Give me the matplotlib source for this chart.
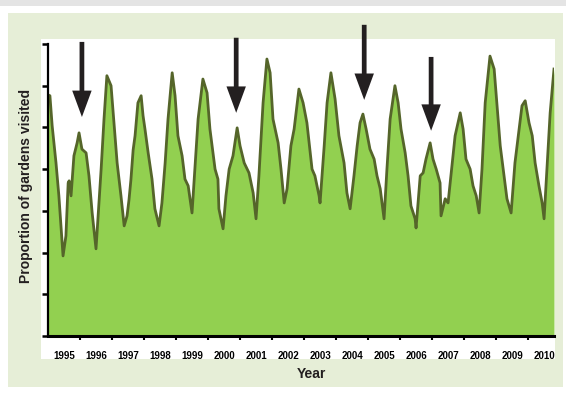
import matplotlib
matplotlib.use("Agg")
import matplotlib.pyplot as plt
from matplotlib import font_manager
from matplotlib.patches import Rectangle

# weekly-ish proportion of gardens visited
years_t = [1995.00, 1995.06, 1995.13, 1995.25, 1995.34, 1995.44, 1995.47, 1995.56, 1995.63, 1995.66,
           1995.72, 1995.81, 1995.91, 1995.97, 1996.06, 1996.19, 1996.28, 1996.38, 1996.50, 1996.66,
           1996.75, 1996.84, 1996.97, 1997.06, 1997.16, 1997.28, 1997.38, 1997.47, 1997.53, 1997.59,
           1997.66, 1997.72, 1997.81, 1997.91, 1997.97, 1998.03, 1998.13, 1998.25, 1998.34, 1998.47,
           1998.56, 1998.66, 1998.75, 1998.88, 1998.97, 1999.06, 1999.19, 1999.28, 1999.38, 1999.50,
           1999.59, 1999.69, 1999.84, 1999.97, 2000.06, 2000.22, 2000.31, 2000.34, 2000.47, 2000.56,
           2000.66, 2000.78, 2000.91, 2001.00, 2001.13, 2001.28, 2001.41, 2001.50, 2001.59, 2001.72,
           2001.84, 2001.94, 2002.03, 2002.19, 2002.28, 2002.38, 2002.47, 2002.59, 2002.69, 2002.84,
           2002.97, 2003.09, 2003.25, 2003.34, 2003.47, 2003.50, 2003.63, 2003.72, 2003.84, 2003.97,
           2004.09, 2004.25, 2004.34, 2004.44, 2004.56, 2004.66, 2004.75, 2004.84, 2004.94, 2005.06,
           2005.19, 2005.28, 2005.38, 2005.50, 2005.59, 2005.69, 2005.84, 2005.94, 2006.03, 2006.16,
           2006.25, 2006.34, 2006.47, 2006.50, 2006.63, 2006.72, 2006.81, 2006.94, 2007.03, 2007.13,
           2007.25, 2007.28, 2007.41, 2007.50, 2007.59, 2007.72, 2007.88, 2007.97, 2008.06, 2008.19,
           2008.28, 2008.38, 2008.47, 2008.56, 2008.66, 2008.81, 2008.94, 2009.03, 2009.13, 2009.25,
           2009.34, 2009.47, 2009.59, 2009.72, 2009.81, 2009.91, 2010.03, 2010.13, 2010.22, 2010.34,
           2010.44, 2010.50, 2010.59, 2010.69, 2010.81]
proportion = [0.578, 0.576, 0.504, 0.415, 0.336, 0.223, 0.192, 0.240, 0.367, 0.372,
              0.336, 0.432, 0.463, 0.487, 0.448, 0.439, 0.384, 0.295, 0.209, 0.400,
              0.520, 0.624, 0.600, 0.511, 0.415, 0.336, 0.264, 0.288, 0.326, 0.374,
              0.446, 0.480, 0.559, 0.576, 0.528, 0.496, 0.439, 0.376, 0.305, 0.264,
              0.319, 0.415, 0.520, 0.631, 0.576, 0.480, 0.432, 0.376, 0.360, 0.295,
              0.400, 0.520, 0.616, 0.583, 0.496, 0.400, 0.376, 0.305, 0.257, 0.336,
              0.400, 0.432, 0.499, 0.456, 0.415, 0.391, 0.343, 0.281, 0.384, 0.559,
              0.664, 0.631, 0.520, 0.463, 0.400, 0.319, 0.353, 0.456, 0.496, 0.592,
              0.559, 0.511, 0.400, 0.384, 0.336, 0.319, 0.456, 0.559, 0.631, 0.568,
              0.480, 0.415, 0.343, 0.305, 0.384, 0.456, 0.511, 0.532, 0.496, 0.448,
              0.424, 0.384, 0.353, 0.281, 0.400, 0.520, 0.600, 0.559, 0.496, 0.439,
              0.384, 0.312, 0.281, 0.259, 0.384, 0.391, 0.424, 0.463, 0.424, 0.400,
              0.367, 0.288, 0.329, 0.319, 0.384, 0.480, 0.535, 0.496, 0.424, 0.400,
              0.360, 0.336, 0.295, 0.400, 0.559, 0.671, 0.640, 0.552, 0.456, 0.384,
              0.329, 0.295, 0.415, 0.496, 0.552, 0.564, 0.511, 0.480, 0.415, 0.360,
              0.319, 0.281, 0.400, 0.535, 0.640]

year_labels = [str(y) for y in range(1995, 2011)]

# arrows marking the weak winter peaks: (x, tip, tail)
arrow_x = [1996.06, 2000.88, 2004.88, 2006.97]
arrow_tip = [0.525, 0.535, 0.566, 0.492]
arrow_tail = [0.705, 0.715, 0.746, 0.669]

fill_c = "#92d050"
line_c = "#55652a"
panel_c = "#e6eed7"

names = {f.name for f in font_manager.fontManager.ttflist}
narrow = "Liberation Sans Narrow" if "Liberation Sans Narrow" in names else "Liberation Sans"

fig = plt.figure(figsize=(5.66, 3.94), dpi=100)
fig.patches.append(Rectangle((0, 0.985), 1, 0.015, transform=fig.transFigure,
                             facecolor="#e4e4e4", edgecolor="none", zorder=0))
fig.patches.append(Rectangle((8/566, 7/394), 555/566, 374/394, transform=fig.transFigure,
                             facecolor=panel_c, edgecolor="none", zorder=0))
fig.patches.append(Rectangle((41/566, 35/394), 514/566, 320/394, transform=fig.transFigure,
                             facecolor="white", edgecolor="none", zorder=0))

ax = fig.add_axes([48/566, 58/394, 506/566, 292/394])
ax.set_zorder(2)
ax.patch.set_alpha(0)
ax.fill_between(years_t, proportion, 0, color=fill_c, lw=0)
ax.plot(years_t, proportion, color=line_c, lw=2.0)

ax.set_xlim(1995, 2010.81)
ax.set_ylim(0, 0.7)
for s in ["top", "right"]:
    ax.spines[s].set_visible(False)
ax.spines["left"].set_linewidth(1.6)
ax.spines["bottom"].set_linewidth(2.2)

ax.set_yticks([i / 10 for i in range(8)])
ax.set_yticklabels([])
ax.tick_params(axis="y", length=4, width=1.8, direction="out")

ax.set_xticks(range(1996, 2011))
ax.set_xticklabels([])
ax.tick_params(axis="x", which="major", length=3, width=1.5, direction="out")
ax.set_xticks([y + 0.5 for y in range(1995, 2011)], minor=True)
ax.set_xticklabels(year_labels, minor=True, fontsize=7, fontweight="bold", family=narrow)
ax.tick_params(axis="x", which="minor", length=0, pad=11)

ax.set_ylabel("Proportion of gardens visited", fontsize=10, fontweight="bold",
              family=narrow, color="#231f20")
ax.yaxis.set_label_coords(-0.029, 0.514)
fig.text(311/566, 1 - 374/394, "Year", ha="center", va="center", fontsize=10,
         fontweight="bold", family=narrow, color="#231f20")

for x, tip, tail in zip(arrow_x, arrow_tip, arrow_tail):
    ax.annotate("", xy=(x, tip), xytext=(x, tail), annotation_clip=False,
                arrowprops=dict(facecolor="#231f20", edgecolor="none",
                                width=3.4, headwidth=14, headlength=19, shrink=0))

fig.savefig("out.png", dpi=100)
